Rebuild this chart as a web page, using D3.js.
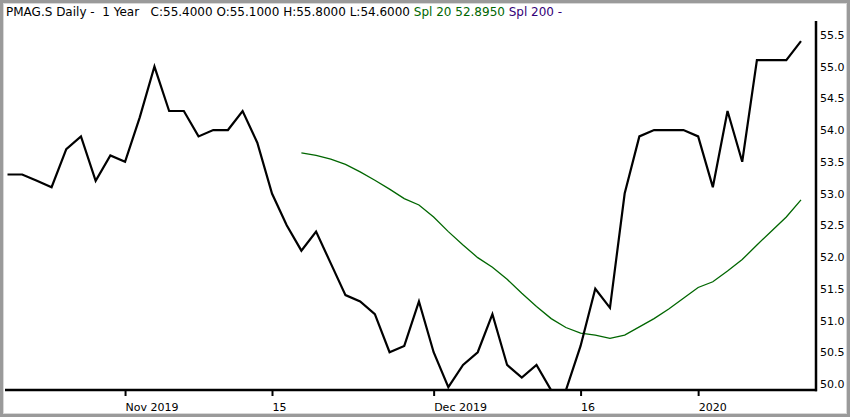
<!DOCTYPE html>
<html>
<head>
<meta charset="utf-8">
<script src="https://cdn.jsdelivr.net/npm/d3@7"></script>
<style>
  body { margin: 0; background: #fff; }
  svg { display: block; }
  .hdr { white-space: pre; }
</style>
</head>
<body>
<figure style="margin:0"></figure>
<script>
const width = 850
const height = 417

// trading days (SIX), Oct 22 2019 .. Jan 14 2020
const dates = [
  '2019-10-22', '2019-10-23', '2019-10-24', '2019-10-25', '2019-10-28', '2019-10-29', '2019-10-30', '2019-10-31',
  '2019-11-01', '2019-11-04', '2019-11-05', '2019-11-06', '2019-11-07', '2019-11-08', '2019-11-11', '2019-11-12',
  '2019-11-13', '2019-11-14', '2019-11-15', '2019-11-18', '2019-11-19', '2019-11-20', '2019-11-21', '2019-11-22',
  '2019-11-25', '2019-11-26', '2019-11-27', '2019-11-28', '2019-11-29', '2019-12-02', '2019-12-03', '2019-12-04',
  '2019-12-05', '2019-12-06', '2019-12-09', '2019-12-10', '2019-12-11', '2019-12-12', '2019-12-13', '2019-12-16',
  '2019-12-17', '2019-12-18', '2019-12-19', '2019-12-20', '2019-12-23', '2019-12-27', '2019-12-30', '2020-01-03',
  '2020-01-06', '2020-01-07', '2020-01-08', '2020-01-09', '2020-01-10', '2020-01-13', '2020-01-14'
]

const close = [
  53.3, 53.3, 53.2, 53.1, 53.7, 53.9, 53.2, 53.6,
  53.5, 54.2, 55.0, 54.3, 54.3, 53.9, 54.0, 54.0,
  54.3, 53.8, 53.0, 52.5, 52.1, 52.4, 51.9, 51.4,
  51.3, 51.1, 50.5, 50.6, 51.3, 50.5, 49.95, 50.3,
  50.5, 51.1, 50.3, 50.1, 50.3, 49.9, 49.9, 50.6,
  51.5, 51.2, 53.0, 53.9, 54.0, 54.0, 54.0, 53.9,
  53.1, 54.3, 53.5, 55.1, 55.1, 55.1, 55.4
]

// Spl 20, first 20 days have no value
const spl20 = [
  null, null, null, null, null, null, null, null, null, null,
  null, null, null, null, null, null, null, null, null, null,
  53.64, 53.60, 53.54, 53.46, 53.34, 53.21, 53.07, 52.92, 52.82, 52.63,
  52.40, 52.19, 51.99, 51.84, 51.65, 51.43, 51.22, 51.03, 50.89, 50.80,
  50.77, 50.72, 50.77, 50.90, 51.03, 51.18, 51.35, 51.52, 51.61, 51.78,
  51.96, 52.19, 52.41, 52.63, 52.90
]

const xTickDates = ['2019-11-01', '2019-11-15', '2019-12-02', '2019-12-16', '2020-01-03']
const xTickLabels = ['Nov 2019', '15', 'Dec 2019', '16', '2020']
const yTicks = [50, 50.5, 51, 51.5, 52, 52.5, 53, 53.5, 54, 54.5, 55, 55.5]

const header = [
  { text: 'PMAG.S Daily -  1 Year   C:55.4000 O:55.1000 H:55.8000 L:54.6000 ', color: '#000' },
  { text: 'Spl 20 52.8950 ', color: '#006600' },
  { text: 'Spl 200 -', color: '#330077' }
]

const plot = { left: 5, right: 816, top: 21, bottom: 390 }

const svg = d3.select('figure').append('svg')
  .attr('width', width)
  .attr('height', height)

// frame
svg.append('rect')
  .attr('x', 1.5).attr('y', 1.5)
  .attr('width', width - 3).attr('height', height - 3)
  .attr('fill', '#fff')
  .attr('stroke', '#9a9a9a')
  .attr('stroke-width', 3)
svg.append('rect')
  .attr('x', 3.5).attr('y', 3.5)
  .attr('width', width - 7).attr('height', height - 7)
  .attr('fill', 'none')
  .attr('stroke', '#d8d8d8')
  .attr('stroke-width', 1)

const x = d3.scalePoint()
  .domain(dates)
  .range([7.5, 801])

const y = d3.scaleLinear()
  .domain([50, 55.5])
  .range([384, 34.8])

svg.append('clipPath').attr('id', 'clip')
  .append('rect')
  .attr('x', plot.left).attr('y', plot.top)
  .attr('width', plot.right - plot.left)
  .attr('height', plot.bottom - plot.top)

const g = svg.append('g').attr('clip-path', 'url(#clip)')

const priceLine = d3.line()
  .x((d, i) => x(dates[i]))
  .y(d => y(d))

const splLine = d3.line()
  .defined(d => d !== null)
  .x((d, i) => x(dates[i]))
  .y(d => y(d))

g.append('path')
  .datum(spl20)
  .attr('fill', 'none')
  .attr('stroke', '#006600')
  .attr('stroke-width', 1.3)
  .attr('d', splLine)

g.append('path')
  .datum(close)
  .attr('fill', 'none')
  .attr('stroke', '#000')
  .attr('stroke-width', 2.2)
  .attr('stroke-linejoin', 'miter')
  .attr('d', priceLine)

// x axis
const xAxis = d3.axisBottom(x)
  .tickValues(xTickDates)
  .tickFormat((d, i) => xTickLabels[i])
  .tickSize(6)
  .tickSizeOuter(0)

const gx = svg.append('g')
  .attr('transform', `translate(0,${plot.bottom})`)
  .call(xAxis)
gx.select('.domain').remove()
gx.selectAll('.tick line')
  .attr('stroke', '#000')
  .attr('stroke-width', 2)
gx.selectAll('.tick text')
  .attr('text-anchor', 'start')
  .attr('x', 0)
  .attr('y', 21)
  .attr('dy', 0)
  .attr('fill', '#000')
  .style('font-family', 'DejaVu Sans')
  .style('font-size', '11px')

svg.append('line')
  .attr('x1', plot.left).attr('x2', plot.right + 1)
  .attr('y1', plot.bottom).attr('y2', plot.bottom)
  .attr('stroke', '#000')
  .attr('stroke-width', 2.5)

// y axis
const yAxis = d3.axisRight(y)
  .tickValues(yTicks)
  .tickFormat(d3.format('.1f'))
  .tickSize(0)
  .tickPadding(4)

const gy = svg.append('g')
  .attr('transform', `translate(${plot.right},0)`)
  .call(yAxis)
gy.select('.domain').remove()
gy.selectAll('.tick text')
  .attr('fill', '#000')
  .style('font-family', 'DejaVu Sans')
  .style('font-size', '11px')

svg.append('line')
  .attr('x1', plot.right).attr('x2', plot.right)
  .attr('y1', plot.top).attr('y2', plot.bottom + 1.25)
  .attr('stroke', '#000')
  .attr('stroke-width', 2.5)

// header
svg.append('text')
  .attr('class', 'hdr')
  .attr('x', 6)
  .attr('y', 16)
  .style('font-family', 'DejaVu Sans')
  .style('font-size', '12px')
  .selectAll('tspan')
  .data(header)
  .join('tspan')
  .attr('fill', d => d.color)
  .text(d => d.text)
</script>
</body>
</html>
